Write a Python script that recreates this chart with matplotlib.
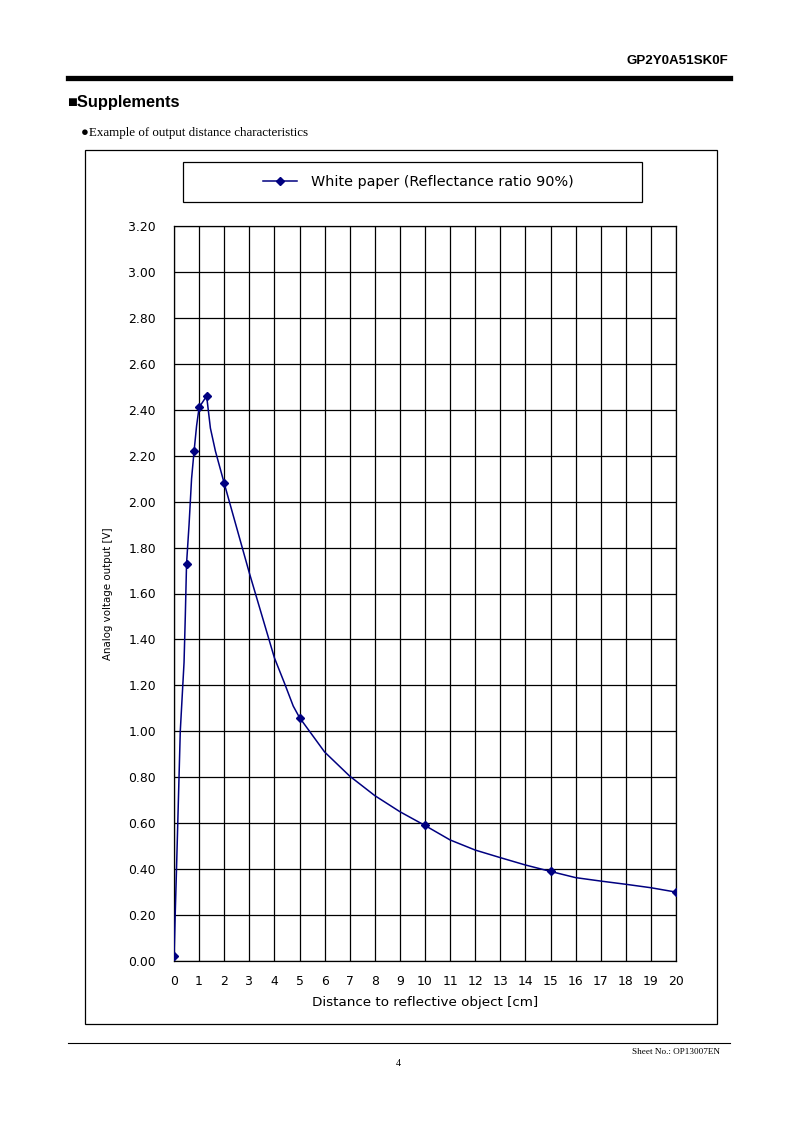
import matplotlib
matplotlib.use("Agg")
import matplotlib.pyplot as plt
from matplotlib.lines import Line2D
from matplotlib.patches import Rectangle

# ---- data ----
# measured points (shown with markers)
dist_cm = [0.0, 0.5, 0.8, 1.0, 1.3, 2.0, 5.0, 10.0, 15.0, 20.0]
volt_v = [0.02, 1.73, 2.22, 2.41, 2.46, 2.08, 1.06, 0.59, 0.39, 0.30]
# drawn curve (line without markers)
curve_x = [0.0, 0.1, 0.25, 0.4, 0.45, 0.5, 0.6, 0.7, 0.8, 0.9, 1.0, 1.3,
           1.45, 1.65, 2.0, 3.0, 4.0, 4.4, 4.75, 5.0, 6.0, 7.0, 8.0, 9.0,
           10.0, 11.0, 12.0, 13.0, 14.0, 15.0, 16.0, 17.0, 18.0, 19.0, 20.0]
curve_y = [0.02, 0.40, 1.00, 1.30, 1.50, 1.73, 1.90, 2.10, 2.22, 2.33, 2.41, 2.46,
           2.32, 2.22, 2.08, 1.69, 1.32, 1.21, 1.11, 1.06, 0.91, 0.805, 0.72, 0.65,
           0.59, 0.527, 0.483, 0.45, 0.418, 0.39, 0.363, 0.348, 0.334, 0.319, 0.30]
x_ticks = list(range(0, 21))
y_ticks = [0.0, 0.2, 0.4, 0.6, 0.8, 1.0, 1.2, 1.4, 1.6, 1.8, 2.0, 2.2, 2.4, 2.6, 2.8, 3.0, 3.2]
series_label = "White paper (Reflectance ratio 90%)"
x_label = "Distance to reflective object [cm]"
y_label = "Analog voltage output [V]"

W, H = 794, 1123
fig = plt.figure(figsize=(W / 100, H / 100), dpi=100)
fig.patch.set_facecolor("white")

def fx(px):
    return px / W

def fy(py):
    return 1 - py / H

NAVY = "#000080"

# ---- page decorations ----
fig.text(fx(728), fy(61), "GP2Y0A51SK0F", ha="right", va="center",
         fontsize=9.6, fontweight="bold", family="Liberation Sans")
fig.add_artist(Line2D([fx(68), fx(730)], [fy(77.5), fy(77.5)], color="black", lw=3.8))
fig.text(fx(67), fy(103), "\u25a0Supplements", ha="left", va="center",
         fontsize=11.8, fontweight="bold", family=["Liberation Sans", "DejaVu Sans"])
fig.text(fx(81), fy(133), "\u25cfExample of output distance characteristics", ha="left",
         va="center", fontsize=9.4, family=["Liberation Serif", "DejaVu Serif"])

# outer chart box
fig.add_artist(Rectangle((fx(85), fy(1024)), fx(717) - fx(85), fy(150) - fy(1024),
                         fill=False, edgecolor="black", lw=0.9))
# legend box
fig.add_artist(Rectangle((fx(183), fy(202)), fx(642) - fx(183), fy(162) - fy(202),
                         fill=False, edgecolor="black", lw=0.9))

# footer
fig.add_artist(Line2D([fx(68), fx(730)], [fy(1043), fy(1043)], color="black", lw=0.8))
fig.text(fx(720), fy(1052), "Sheet No.: OP13007EN", ha="right", va="center",
         fontsize=6.6, family="Liberation Serif")
fig.text(fx(398), fy(1064), "4", ha="center", va="center",
         fontsize=7.2, family="Liberation Serif")

# ---- chart ----
ax = fig.add_axes([fx(174), fy(961), fx(676) - fx(174), fy(226) - fy(961)])
ax.plot(curve_x, curve_y, color=NAVY, lw=1.1, zorder=3)
ax.plot(dist_cm, volt_v, linestyle="none", marker="D", markersize=4.5,
        color=NAVY, zorder=4)
ax.set_xlim(0, 20)
ax.set_ylim(0, 3.2)
ax.set_xticks(x_ticks)
ax.set_yticks(y_ticks)
ax.set_yticklabels([f"{v:.2f}" for v in y_ticks])
ax.grid(True, color="black", lw=0.9)
ax.set_axisbelow(True)
for s in ax.spines.values():
    s.set_color("black")
    s.set_linewidth(0.9)
ax.tick_params(axis="both", length=0, labelsize=8.9)
ax.tick_params(axis="y", pad=13)
ax.tick_params(axis="x", pad=10)
for lab in ax.get_xticklabels() + ax.get_yticklabels():
    lab.set_family("DejaVu Sans")
ax.set_xlabel(x_label, fontsize=9.7, family="DejaVu Sans", labelpad=6)
ax.set_ylabel(y_label, fontsize=7.4, family="DejaVu Sans", labelpad=11)

handle = Line2D([], [], color=NAVY, lw=1.1, marker="D", markersize=4.5)
fig.legend([handle], [series_label], loc="center", bbox_to_anchor=(fx(418), fy(182)),
           frameon=False, handlelength=2.36, handletextpad=0.97,
           prop={"family": "DejaVu Sans", "size": 10.4})

fig.savefig("out.png", dpi=100, facecolor="white")
